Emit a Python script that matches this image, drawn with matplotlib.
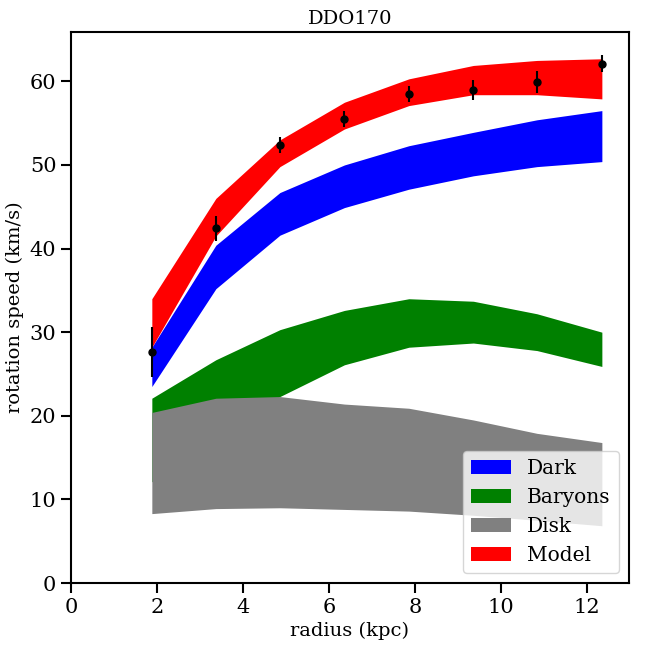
import numpy as np
import matplotlib
matplotlib.use('Agg')
import matplotlib.pyplot as plt

plt.rcParams['font.family'] = 'DejaVu Serif'
plt.rcParams['font.size'] = 14

# radii of the rotation curve points (kpc)
radius = np.array([1.88, 3.37, 4.86, 6.36, 7.86, 9.36, 10.84, 12.35])

# observed rotation speed and error (km/s)
v_obs = np.array([27.6, 42.4, 52.4, 55.5, 58.5, 59.0, 59.9, 62.1])
v_err = np.array([3.0, 1.5, 1.0, 1.0, 1.0, 1.2, 1.3, 1.0])

# bands: lower and upper edges
dark_lo = np.array([23.5, 35.2, 41.6, 44.9, 47.1, 48.7, 49.8, 50.4])
dark_hi = np.array([28.2, 40.4, 46.7, 50.0, 52.3, 53.9, 55.4, 56.5])

bary_lo = np.array([12.1, 17.2, 22.3, 26.1, 28.2, 28.7, 27.8, 25.9])
bary_hi = np.array([22.1, 26.7, 30.3, 32.6, 34.0, 33.7, 32.2, 30.0])

disk_lo = np.array([8.3, 8.9, 9.0, 8.8, 8.6, 8.1, 7.5, 6.85])
disk_hi = np.array([20.4, 22.1, 22.3, 21.4, 20.9, 19.5, 17.9, 16.8])

model_lo = np.array([28.2, 41.5, 49.8, 54.3, 57.1, 58.4, 58.4, 57.9])
model_hi = np.array([34.0, 46.0, 53.0, 57.5, 60.3, 61.9, 62.5, 62.7])

fig = plt.figure(figsize=(6.48, 6.48), dpi=100)
ax = fig.add_axes([0.1096, 0.1003, 0.861, 0.8503])

ax.fill_between(radius, dark_lo, dark_hi, color='blue', lw=0, label='Dark')
ax.fill_between(radius, bary_lo, bary_hi, color='green', lw=0, label='Baryons')
ax.fill_between(radius, disk_lo, disk_hi, color='gray', lw=0, label='Disk')
ax.fill_between(radius, model_lo, model_hi, color='red', lw=0, label='Model')

ax.errorbar(radius, v_obs, yerr=v_err, fmt='o', color='black', ms=5, elinewidth=1.5)

ax.set_xlim(0, 12.98)
ax.set_ylim(0, 65.9)
ax.set_xticks([0, 2, 4, 6, 8, 10, 12])
ax.set_yticks([0, 10, 20, 30, 40, 50, 60])

for s in ax.spines.values():
    s.set_linewidth(1.5)
ax.tick_params(which='major', length=7, width=1.5, labelsize=15)

ax.set_title('DDO170', fontsize=14)
ax.set_xlabel('radius (kpc)', fontsize=14)
ax.set_ylabel('rotation speed (km/s)', fontsize=14)
ax.legend(loc='lower right', fontsize=14.5)

fig.savefig('out.png', dpi=100)
